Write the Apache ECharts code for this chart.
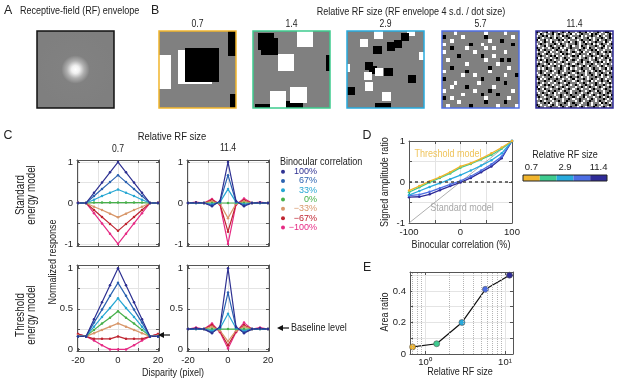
<!DOCTYPE html>
<html>
<head>
<meta charset="utf-8">
<script src="https://cdn.jsdelivr.net/npm/echarts@6/dist/echarts.min.js"></script>
<style>
  html, body { margin: 0; padding: 0; background: #fff; }
  #chart { width: 617px; height: 381px; }
</style>
</head>
<body>
<div id="chart"></div>
<script>
var FONT = "'Liberation Sans', Arial, sans-serif";
var NARROW = 0.82; // reference uses a condensed face

// ---------- data ----------
var rfSizes = ['0.7', '1.4', '2.9', '5.7', '11.4'];
var rfValues = [0.7, 1.4, 2.9, 5.7, 11.4];
var rfColors = ['#f1b52d', '#3ecb8f', '#28aadd', '#4d6ee4', '#2f2b98'];

// B: dot centres in dot-size units from the top-left corner of each patch (1 = white, 0 = black)
var dots07 = [[-0.14, 1.2, 1], [1.05, 1.05, 1], [1.28, 0.99, 0], [2.53, 0.25, 0], [2.58, 2.35, 0]];
var dots14 = [[0.8, 0.64, 0], [1.0, 0.94, 0], [3.16, 0.44, 1], [2.0, 1.9, 1], [4.9, 1.94, 0],
  [0.6, 4.9, 0], [2.5, 4.74, 0], [1.5, 4.14, 1], [2.76, 3.88, 1]];
var dots29 = [[3.84, 0.52, 1], [7.8, 0.1, 1], [7.08, 0.72, 0], [6.24, 1.6, 0], [2.04, 1.48, 1],
  [5.32, 1.88, 0], [3.72, 2.28, 0], [9.3, 3.0, 1], [-0.1, 4.48, 1], [2.72, 4.28, 0], [3.2, 4.76, 0],
  [2.52, 5.48, 1], [3.92, 5.0, 1], [5.04, 5.0, 0], [7.92, 5.8, 0], [2.72, 6.76, 1], [0.48, 7.28, 0],
  [4.8, 7.96, 1], [3.92, 9.2, 0], [4.8, 9.25, 0]];
var rows57 = [
  '...w.......w....w...', 'b....w.....b......w.', '..w.........w..b....', 'w......b..w.......b.',
  '..b...w....w.w......', 'w.......w.......w...', '....b.....b..w......', '.w.........w...b.b..',
  '......w.......w.....', '..b.........b....w..', 'w.....b.....w.......', '.....w..w.......w..b',
  'b.........b...b.....', '...w.....w......b...', '..w...b......w......', 'w.......w...b.....w.',
  '.....w....b...b.....', 'b.w........w.....w..', '....w......b....b...', '.w.....b......w....w'
];
var rows114 = [
  'b.w..bw.b..w.b.wb..w.b..bw.w..b.w.bb.w', '.wb.w...bw.b..w..bw.w.b...wb.b.w..w.b.',
  'w..b.bw..w..wb.b.w...bw.w..b..wb.w..bw', '.b.w...b.wb..w..b.wb..w..bw.w...b.w.b.',
  'bw..bw.w...b.bw.w...w.b...b.w.bw..b..w', '..w.b..wb.w..w..bw.b.w.bw.w..b...wb.w.',
  'w.b..w...b.wb..w...b.w..b..bw.w.b..w.b', '.w..bw.b.w...b.w.bw..wb..w...b.w.bw...',
  'b..w..w.b..bw.w..b...w.b.wb..w..b.w.wb', '.bw.b...w.b..w.bw..w.b..w..b.bw..w...w',
  'w...w.bw..w.b...w.b.w.bw..w...b.w.b.b.', '.b.w.b..w...wb.b..w..b...wb.w.b..w..w.',
  '..b..w.b.bw..w..w.b.bw.w...b..w.b..bw.', 'bw.w...w..b.w.b..w...w..b.w.wb..w.b..w',
  '..b.wb.b.w..w..bw.b.w.b...w..b.w...wb.', 'w.w..b...b.w.b.w...w..bw.b.w..b.bw.w..',
  '.b..w.bw.w...w..b.w.b..w...b.w..w..b.w', 'b..b..w..b.wb..w..b..w.b.wb...w.b.w...',
  '.w.w.b..w...b.w.bw.w..b...w.b..w..bw.b', '..b..w.b.w.b..w...b..w.bw..w.b.b.w...w',
  'w.b.w...w..b.w..b.w.b...w.b..w..b..wb.', '.w..b.bw..w...b.w..w..b.w..b.w.bw.b...',
  'b..w...b.w.wb..w.b..b.w..w...b..w..w.b', '.bw.w.b...b..w..w.bw...b.w.b..w.b.w...',
  'w...b..w.b..w.b...w.b.w...bw.w..b..bw.', '.b.w..w..w.b..w.b...w..b.w...b.w.w..b.',
  '..w.b.b.w...w..b.w.b.w..b..w.b...b.w.w', 'bw...w..b.w..b.w...w..b.w.b..w.b.w..b.',
  '.b.wb..w...b.w..b.w.b.w...w.b...w.b..w', 'w...w.b..b..w.b..w...b..w.b..wb..w..b.',
  '.w.b..w.bw.w...b.w.b..w..b.w...b.w.b..', 'b..w.b...w..b.w..b...w.b..w.b.w..b..wb',
  '.b..w..b..w.b..w..b.w..bw...w..b.w.b..', 'w.w..b.w.b...w..b.w..b...w.b.w...b.w.b',
  '..b.w...w..b.w.b...w.b.w..b..w.b..w..w', '.w..b.bw..w...b.w.b...w..b.w...wb.b.w.',
  'b.w...w.b.w.b...w..b.w...b.w.b..w...b.', '.b..w..b...w.b.w.b..w.b.w...b..w.b.w..'
];

// C: normalized response vs disparity, rows follow corrLevels
var disparity = [-20, -16, -12, -8, -4, 0, 4, 8, 12, 16, 20];
var corrLevels = ['100%', '67%', '33%', '0%', '\u221233%', '\u221267%', '\u2212100%'];
var corrColors = ['#2e3192', '#2b62b0', '#27a7d3', '#46b04a', '#d8976a', '#bf2430', '#e62a84'];
var stdSmall = [
  [0, 0, 0.25, 0.5, 0.75, 1.0, 0.75, 0.5, 0.25, 0, 0],
  [0, 0, 0.17, 0.34, 0.51, 0.68, 0.51, 0.34, 0.17, 0, 0],
  [0, 0, 0.08, 0.17, 0.25, 0.33, 0.25, 0.17, 0.08, 0, 0],
  [0, 0, 0.01, 0.01, 0.01, 0.01, 0.01, 0.01, 0.01, 0, 0],
  [0, 0, -0.09, -0.17, -0.26, -0.35, -0.26, -0.17, -0.09, 0, 0],
  [0, 0, -0.17, -0.34, -0.51, -0.68, -0.51, -0.34, -0.17, 0, 0],
  [0.01, 0, -0.25, -0.5, -0.75, -1.0, -0.75, -0.5, -0.25, 0, 0.01]
];
var stdLarge = [
  [0, 0.01, 0, -0.08, 0.05, 1.0, 0.05, -0.08, 0, 0.01, 0],
  [0, 0, 0, -0.05, 0.03, 0.68, 0.03, -0.05, 0, 0, 0],
  [0, 0, 0, -0.03, 0.02, 0.34, 0.02, -0.03, 0, 0, 0],
  [0, 0, 0, 0, 0, 0, 0, 0, 0, 0, 0],
  [0, 0, 0, 0.04, -0.02, -0.37, -0.02, 0.04, 0, 0, 0],
  [0, 0.01, 0, 0.07, -0.03, -0.7, -0.03, 0.07, 0, 0.01, 0],
  [0, 0.02, 0, 0.1, -0.04, -1.0, -0.04, 0.11, 0, 0.02, 0]
];
var thrSmall = [
  [0.16, 0.16, 0.37, 0.58, 0.79, 1.0, 0.79, 0.58, 0.37, 0.16, 0.16],
  [0.16, 0.16, 0.33, 0.49, 0.66, 0.82, 0.66, 0.49, 0.33, 0.16, 0.16],
  [0.16, 0.16, 0.28, 0.40, 0.51, 0.63, 0.51, 0.40, 0.28, 0.16, 0.16],
  [0.16, 0.16, 0.24, 0.32, 0.39, 0.47, 0.39, 0.32, 0.24, 0.16, 0.16],
  [0.17, 0.16, 0.20, 0.24, 0.28, 0.32, 0.28, 0.24, 0.20, 0.16, 0.17],
  [0.19, 0.16, 0.13, 0.13, 0.13, 0.16, 0.13, 0.13, 0.13, 0.16, 0.19],
  [0.19, 0.16, 0.11, 0.05, 0.0, 0.0, 0.0, 0.05, 0.11, 0.16, 0.19]
];
var thrLarge = [
  [0.25, 0.26, 0.25, 0.2, 0.28, 1.0, 0.28, 0.2, 0.25, 0.26, 0.25],
  [0.25, 0.25, 0.25, 0.21, 0.27, 0.7, 0.27, 0.21, 0.25, 0.25, 0.25],
  [0.25, 0.25, 0.25, 0.23, 0.26, 0.44, 0.26, 0.23, 0.25, 0.25, 0.25],
  [0.25, 0.25, 0.25, 0.25, 0.25, 0.25, 0.25, 0.25, 0.25, 0.25, 0.25],
  [0.25, 0.25, 0.25, 0.28, 0.23, 0.1, 0.23, 0.28, 0.25, 0.25, 0.25],
  [0.25, 0.26, 0.25, 0.3, 0.22, 0.05, 0.22, 0.3, 0.25, 0.26, 0.25],
  [0.25, 0.27, 0.25, 0.32, 0.21, 0.01, 0.21, 0.33, 0.25, 0.27, 0.25]
];

// D: signed amplitude ratio vs binocular correlation
var corrPct = [-100, -80, -60, -40, -20, 0, 20, 40, 60, 80, 100];
var amp07 = [-0.21, -0.1, 0.02, 0.12, 0.24, 0.38, 0.46, 0.57, 0.7, 0.84, 1.0];
var amp14 = [-0.25, -0.13, -0.01, 0.1, 0.21, 0.35, 0.44, 0.55, 0.66, 0.81, 1.0];
var amp29 = [-0.32, -0.22, -0.12, -0.03, 0.07, 0.17, 0.28, 0.4, 0.53, 0.7, 1.0];
var amp57 = [-0.33, -0.31, -0.24, -0.15, -0.06, 0.03, 0.14, 0.28, 0.43, 0.62, 1.0];
var amp114 = [-0.37, -0.36, -0.3, -0.2, -0.1, -0.01, 0.1, 0.24, 0.38, 0.58, 1.0];
var stdModelX = [-100, 100];
var stdModelY = [-1, 1];

// E: area ratio vs relative RF size
var areaRatio = [0.045, 0.065, 0.2, 0.41, 0.5];
var eMinorGrid = [0.7, 0.8, 0.9, 2, 3, 4, 5, 6, 7, 8, 9];

// ---------- helpers ----------
var grids = [], xAxes = [], yAxes = [], series = [], graphics = [];

function deepMerge(a, b) {
  Object.keys(b || {}).forEach(function (k) {
    var v = b[k];
    if (v && typeof v === 'object' && !Array.isArray(v) && a[k] && typeof a[k] === 'object') deepMerge(a[k], v);
    else a[k] = v;
  });
  return a;
}

function axisBase(gi, pos, main) {
  return {
    gridIndex: gi, position: pos, type: 'value',
    axisLine: { show: true, onZero: false, lineStyle: { color: '#555', width: 1 } },
    axisTick: { show: true, inside: true, length: 3, lineStyle: { color: '#555' } },
    axisLabel: { show: main, fontSize: 9.5, color: '#222', margin: 4, fontFamily: FONT },
    splitLine: { show: main, lineStyle: { color: '#e4e4e4', width: 1 } }
  };
}

function plotAxes(rect, xo, yo) {
  grids.push(rect);
  var gi = grids.length - 1;
  var ax = { x: xAxes.length, y: yAxes.length };
  ['bottom', 'top'].forEach(function (p, k) { xAxes.push(deepMerge(axisBase(gi, p, k === 0), xo)); });
  ['left', 'right'].forEach(function (p, k) { yAxes.push(deepMerge(axisBase(gi, p, k === 0), yo)); });
  return ax;
}

function hiddenAxes(gi, span) {
  var ax = { x: xAxes.length, y: yAxes.length };
  xAxes.push({ gridIndex: gi, type: 'value', min: 0, max: span, show: false });
  yAxes.push({ gridIndex: gi, type: 'value', min: 0, max: span, inverse: true, show: false });
  return ax;
}

function rowsToDots(rows) {
  var out = [];
  rows.forEach(function (r, i) {
    for (var j = 0; j < r.length; j++) {
      if (r[j] !== '.') out.push([j + 0.5, i + 0.5, r[j] === 'w' ? 1 : 0]);
    }
  });
  return out;
}

function renderDot(params, api) {
  var p0 = api.coord([api.value(0) - 0.5, api.value(1) - 0.5]);
  var p1 = api.coord([api.value(0) + 0.5, api.value(1) + 0.5]);
  var x0 = Math.round(Math.min(p0[0], p1[0])), x1 = Math.round(Math.max(p0[0], p1[0]));
  var y0 = Math.round(Math.min(p0[1], p1[1])), y1 = Math.round(Math.max(p0[1], p1[1]));
  return {
    type: 'rect', shape: { x: x0, y: y0, width: x1 - x0, height: y1 - y0 },
    style: { fill: api.value(2) ? '#ffffff' : '#000000' }
  };
}

function txt(text, x, y, size, opt) {
  opt = opt || {};
  return {
    type: 'text', x: x, y: y, rotation: opt.rot || 0, scaleX: opt.sx || NARROW, silent: true, z: 10,
    style: {
      text: text, fontSize: size, fontFamily: FONT, fill: opt.color || '#222',
      align: opt.align || 'center', verticalAlign: 'middle', lineHeight: opt.lh || size + 1
    }
  };
}

// ---------- A ----------
graphics.push({
  type: 'rect', shape: { x: 37, y: 31, width: 77, height: 77 }, silent: true,
  style: {
    fill: new echarts.graphic.RadialGradient(0.5, 0.5, 0.5, [
      { offset: 0, color: '#ffffff' }, { offset: 0.1, color: '#f0f0f0' },
      { offset: 0.22, color: '#b0b0b0' }, { offset: 0.36, color: '#818181' }, { offset: 1, color: '#7f7f7f' }
    ]),
    stroke: '#111', lineWidth: 1.5
  }
});
graphics.push(txt('A', 8, 10, 13, { sx: 0.95 }));
graphics.push(txt('Receptive-field (RF) envelope', 20, 11, 11, { align: 'left' }));

// ---------- B ----------
var bLefts = [159, 253, 347, 442, 536];
var bSets = [dots07, dots14, dots29, rowsToDots(rows57), rowsToDots(rows114)];
var bSpans = [2.27, 4.66, 9.36, 20, 38];
bLefts.forEach(function (left, i) {
  grids.push({ left: left, top: 31, width: 77, height: 77, show: true, backgroundColor: '#808080', borderWidth: 0 });
  var ax = hiddenAxes(grids.length - 1, bSpans[i]);
  series.push({
    type: 'custom', xAxisIndex: ax.x, yAxisIndex: ax.y, clip: true, silent: true,
    renderItem: renderDot, data: bSets[i]
  });
  grids.push({ left: left, top: 31, width: 77, height: 77, show: true, z: 3, backgroundColor: 'transparent', borderColor: rfColors[i], borderWidth: 1.5 });
  hiddenAxes(grids.length - 1, 1);
  graphics.push(txt(rfSizes[i], left + 38.5, 24, 10.5));
});
graphics.push(txt('B', 155, 10, 13, { sx: 0.95 }));
graphics.push(txt('Relative RF size (RF envelope 4 s.d. / dot size)', 411, 12, 11));

// ---------- C ----------
var cx = { min: -20.5, max: 20.5, axisTick: { customValues: [-20, -10, 0, 10, 20] }, axisLabel: { customValues: [-20, 0, 20] } };
var cxNoLab = deepMerge(JSON.parse(JSON.stringify(cx)), { axisLabel: { show: false } });
var cyStd = { min: -1.05, max: 1.05, axisTick: { customValues: [-1, -0.5, 0, 0.5, 1] }, axisLabel: { customValues: [-1, 0, 1] } };
var cyThr = { min: -0.02, max: 1.04, axisTick: { customValues: [0, 0.25, 0.5, 0.75, 1] }, axisLabel: { customValues: [0, 0.5, 1] } };

function tuningSeries(rows, ax) {
  for (var i = rows.length - 1; i >= 0; i--) {
    series.push({
      type: 'line', name: corrLevels[i], xAxisIndex: ax.x, yAxisIndex: ax.y, silent: true,
      data: disparity.map(function (d, k) { return [d, rows[i][k]]; }),
      symbol: 'circle', symbolSize: 2.5, showSymbol: true,
      lineStyle: { width: 1.2, color: corrColors[i] }, itemStyle: { color: corrColors[i] }
    });
  }
}

tuningSeries(stdSmall, plotAxes({ left: 77, top: 160, width: 82, height: 86 }, cxNoLab, cyStd));
tuningSeries(stdLarge, plotAxes({ left: 187, top: 160, width: 82, height: 86 }, cxNoLab, cyStd));
tuningSeries(thrSmall, plotAxes({ left: 77, top: 265, width: 82, height: 86 }, cx, cyThr));
tuningSeries(thrLarge, plotAxes({ left: 187, top: 265, width: 82, height: 86 }, cx, cyThr));

graphics.push(txt('C', 8, 135, 13, { sx: 0.95 }));
graphics.push(txt('Relative RF size', 172, 137, 11.5));
graphics.push(txt('0.7', 118, 149, 10.5));
graphics.push(txt('11.4', 228, 148, 10.5));
graphics.push(txt('Binocular correlation', 280, 162, 11, { align: 'left' }));
graphics.push(txt('Standard\nenergy model', 26, 195, 12, { rot: Math.PI / 2, lh: 10.5 }));
graphics.push(txt('Threshold\nenergy model', 26, 315, 12, { rot: Math.PI / 2, lh: 10.5 }));
graphics.push(txt('Normalized response', 53, 262, 11, { rot: Math.PI / 2 }));
graphics.push(txt('Disparity (pixel)', 173, 373, 11));
graphics.push(txt('Baseline level', 291, 328, 11, { align: 'left' }));
[[158, 335, 170], [277, 328, 289]].forEach(function (a) {
  graphics.push({ type: 'line', silent: true, z: 10, shape: { x1: a[2], y1: a[1], x2: a[0] + 4, y2: a[1] }, style: { stroke: '#111', lineWidth: 1.2 } });
  graphics.push({ type: 'polygon', silent: true, z: 10, shape: { points: [[a[0], a[1]], [a[0] + 6, a[1] - 3], [a[0] + 6, a[1] + 3]] }, style: { fill: '#111' } });
});

// ---------- D ----------
var axD = plotAxes({ left: 409, top: 141, width: 103, height: 82 },
  { min: -100, max: 100, axisTick: { customValues: [-100, -50, 0, 50, 100] }, axisLabel: { customValues: [-100, 0, 100], margin: 4 } },
  { min: -1, max: 1, axisTick: { customValues: [-1, -0.5, 0, 0.5, 1] }, axisLabel: { customValues: [-1, 0, 1], margin: 4 } });
series.push({
  type: 'line', xAxisIndex: axD.x, yAxisIndex: axD.y, silent: true, symbol: 'none',
  data: stdModelX.map(function (x, k) { return [x, stdModelY[k]]; }),
  lineStyle: { color: '#9a9a9a', width: 0.8 },
  markLine: { silent: true, symbol: 'none', label: { show: false }, data: [{ yAxis: 0 }],
    lineStyle: { color: '#444', width: 1.6, type: [3, 3] } }
});
[amp114, amp57, amp29, amp14, amp07].forEach(function (arr, j) {
  var c = rfColors[4 - j];
  series.push({
    type: 'line', xAxisIndex: axD.x, yAxisIndex: axD.y, silent: true,
    data: corrPct.map(function (x, k) { return [x, arr[k]]; }),
    symbol: 'circle', symbolSize: 2.5, lineStyle: { width: 1.3, color: c }, itemStyle: { color: c }
  });
});
graphics.push(txt('D', 367, 135, 13, { sx: 0.95 }));
graphics.push(txt('Threshold model', 448, 154, 11, { color: '#efc45c' }));
graphics.push(txt('Standard model', 462, 208, 11, { color: '#a8a8a8' }));
graphics.push(txt('Signed amplitude ratio', 385, 182, 11, { rot: Math.PI / 2 }));
graphics.push(txt('Binocular correlation (%)', 461, 245, 11));

// colour bar
grids.push({ left: 523, top: 175, width: 84, height: 6, show: true, z: 3, backgroundColor: 'transparent', borderColor: '#222', borderWidth: 1 });
var gCb = grids.length - 1;
xAxes.push({ gridIndex: gCb, type: 'category', data: rfSizes, position: 'top',
  axisLine: { show: false }, axisTick: { show: false }, splitLine: { show: false },
  axisLabel: { interval: 1, fontSize: 9.5, margin: 3, color: '#222', fontFamily: FONT } });
yAxes.push({ gridIndex: gCb, type: 'value', min: 0, max: 1, show: false });
series.push({
  type: 'bar', xAxisIndex: xAxes.length - 1, yAxisIndex: yAxes.length - 1, silent: true, barCategoryGap: '0%',
  data: rfSizes.map(function (s, i) { return { value: 1, itemStyle: { color: rfColors[i] } }; })
});
graphics.push(txt('Relative RF size', 565, 155, 11));

// ---------- E ----------
var axE = plotAxes({ left: 410, top: 272, width: 103, height: 82 },
  { type: 'log', logBase: 10, min: 0.65, max: 12.6,
    axisLabel: { margin: 3, formatter: function (v) {
      if (Math.abs(v - 1) < 1e-6) return '10\u2070';
      if (Math.abs(v - 10) < 1e-6) return '10\u00b9';
      return '';
    } } },
  { min: 0, max: 0.52, axisTick: { customValues: [0, 0.1, 0.2, 0.3, 0.4, 0.5] }, axisLabel: { customValues: [0, 0.2, 0.4], margin: 4 } });
series.push({
  type: 'line', xAxisIndex: axE.x, yAxisIndex: axE.y, silent: true,
  data: rfValues.map(function (v, i) {
    return { value: [v, areaRatio[i]], itemStyle: { color: rfColors[i], borderColor: '#555', borderWidth: 0.6 } };
  }),
  symbol: 'circle', symbolSize: 6, lineStyle: { color: '#111', width: 1.2 },
  markLine: { silent: true, symbol: 'none', label: { show: false },
    lineStyle: { color: '#b5b5b5', width: 1, type: 'dotted' },
    data: eMinorGrid.map(function (v) { return { xAxis: v }; }) }
});
graphics.push(txt('E', 367, 267, 13, { sx: 0.95 }));
graphics.push(txt('Area ratio', 385, 312, 11, { rot: Math.PI / 2 }));
graphics.push(txt('Relative RF size', 460, 372, 11));

// ---------- chart ----------
var chart = echarts.init(document.getElementById('chart'), null, { renderer: 'canvas' });
chart.setOption({
  animation: false,
  textStyle: { fontFamily: FONT },
  grid: grids,
  xAxis: xAxes,
  yAxis: yAxes,
  series: series,
  legend: {
    left: 281, top: 167, padding: 0, orient: 'vertical', selectedMode: false,
    icon: 'circle', itemWidth: 4, itemHeight: 4, itemGap: 0,
    data: corrLevels.map(function (n, i) { return { name: n, textStyle: { color: corrColors[i] } }; }),
    formatter: '{v|{name}}',
    textStyle: { fontSize: 9, lineHeight: 9.3, fontFamily: FONT, rich: { v: { width: 27, align: 'right', lineHeight: 9.3 } } }
  },
  graphic: graphics
});
</script>
</body>
</html>
